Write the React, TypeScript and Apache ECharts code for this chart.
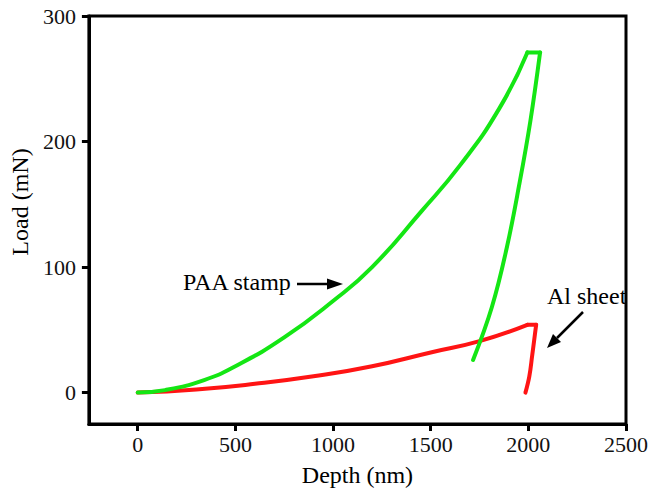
import React, { useEffect, useRef } from "react";
import * as echarts from "echarts";

// Depth (nm), Load (mN)
const paaLoading: [number, number][] = [
  [0, 0], [140, 2], [340, 10], [500, 21], [750, 44], [1000, 73], [1200, 100],
  [1450, 144], [1650, 181], [1850, 226], [1995, 271],
];
const paaHold: [number, number][] = [[1995, 271], [2060, 271]];
const paaUnload: [number, number][] = [
  [2060, 271], [2010, 216], [1955, 167], [1889, 115], [1813, 68], [1717, 26],
];
const alLoading: [number, number][] = [
  [0, 0], [300, 2.5], [600, 7], [900, 13], [1200, 21], [1500, 32], [1750, 41], [1995, 54],
];
const alHold: [number, number][] = [[1995, 54], [2040, 54]];
const alUnload: [number, number][] = [
  [2040, 54], [2030, 42], [2020, 30], [2005, 13], [1985, 0],
];
const xTicks = [0, 500, 1000, 1500, 2000, 2500];
const yTicks = [0, 100, 200, 300];

const GREEN = "#14e614";
const RED = "#ff1414";
const FONT = "Liberation Serif";

export default function App() {
  const ref = useRef<HTMLDivElement>(null);
  useEffect(() => {
    if (!ref.current) return;
    const chart = echarts.init(ref.current, undefined, { renderer: "svg" });
    const lineSeries = (data: [number, number][], color: string, smooth: number) => ({
      type: "line",
      data,
      smooth: smooth > 0 ? smooth : false,
      showSymbol: false,
      symbol: "none",
      lineStyle: { color, width: 4, cap: "round", join: "round" },
      z: 3,
    });
    chart.setOption({
      animation: false,
      backgroundColor: "#ffffff",
      textStyle: { fontFamily: FONT },
      grid: {
        left: 83, right: 21, top: 16, bottom: 67,
        show: true, borderColor: "#000", borderWidth: 3, backgroundColor: "transparent",
      },
      xAxis: {
        type: "value",
        min: -250,
        max: 2500,
        name: "Depth (nm)",
        nameLocation: "middle",
        nameGap: 39,
        nameTextStyle: { fontFamily: FONT, fontSize: 24, color: "#000" },
        splitLine: { show: false },
        axisLine: { show: true, onZero: false, lineStyle: { color: "#000", width: 3 } },
        axisTick: { show: true, inside: false, length: 7, lineStyle: { color: "#000", width: 3 }, customValues: xTicks },
        axisLabel: {
          fontFamily: FONT, fontSize: 22, color: "#111", margin: 9, customValues: xTicks,
          formatter: (v: number) => String(v),
        },
      },
      yAxis: {
        type: "value",
        min: -25,
        max: 300,
        name: "Load (mN)",
        nameLocation: "middle",
        nameGap: 48,
        nameTextStyle: { fontFamily: FONT, fontSize: 24, color: "#000", padding: [0, 0, 0, 36] },
        splitLine: { show: false },
        axisLine: { show: true, onZero: false, lineStyle: { color: "#000", width: 3 } },
        axisTick: { show: true, inside: false, length: 7, lineStyle: { color: "#000", width: 3 }, customValues: yTicks },
        axisLabel: {
          fontFamily: FONT, fontSize: 22, color: "#111", margin: 13, customValues: yTicks,
          formatter: (v: number) => String(v),
        },
      },
      series: [
        lineSeries(alLoading, RED, 0.5),
        lineSeries(alHold, RED, 0),
        lineSeries(alUnload, RED, 0.4),
        lineSeries(paaLoading, GREEN, 0.5),
        lineSeries(paaHold, GREEN, 0),
        lineSeries(paaUnload, GREEN, 0.4),
      ],
      graphic: [
        {
          type: "text", left: 183, top: 270,
          style: { text: "PAA stamp", fontFamily: FONT, fontSize: 24, fill: "#000" },
        },
        { type: "line", shape: { x1: 297, y1: 284, x2: 330, y2: 284 }, style: { stroke: "#000", lineWidth: 2.5 } },
        { type: "polygon", shape: { points: [[343, 284], [327, 278.5], [327, 289.5]] }, style: { fill: "#000" } },
        {
          type: "text", left: 547, top: 284,
          style: { text: "Al sheet", fontFamily: FONT, fontSize: 24, fill: "#000" },
        },
        { type: "line", shape: { x1: 583, y1: 312, x2: 557, y2: 338 }, style: { stroke: "#000", lineWidth: 2.5 } },
        { type: "polygon", shape: { points: [[547, 348], [561, 342], [553, 334]] }, style: { fill: "#000" } },
      ],
    });
    return () => chart.dispose();
  }, []);
  return <div ref={ref} style={{ width: 651, height: 492, position: "absolute", left: 0, top: 0 }} />;
}
